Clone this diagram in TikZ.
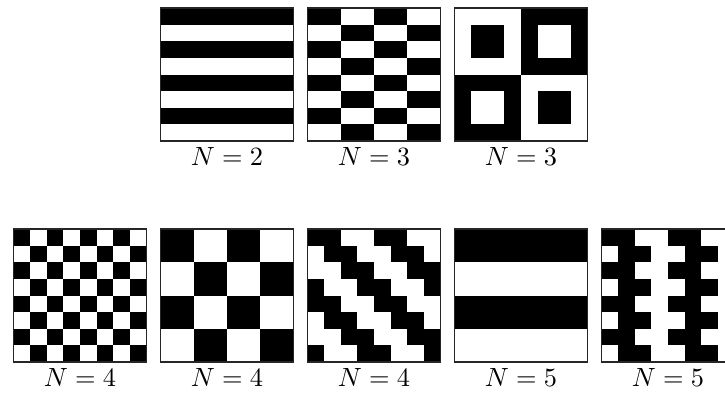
\documentclass[tikz,border=0pt]{standalone}
\tikzset{
  frame/.style={draw=black!85, line width=0.4pt},
  lab/.style={anchor=base, inner sep=0pt, font=\fontsize{10.2}{12}\selectfont},
  cellscope/.style={scale=16.625},
}
\newcommand\lablevel{9.474}
\begin{document}
\begin{tikzpicture}[x=0.3793pt,y=-0.3793pt]
\useasboundingbox (0,0) rectangle (725,394);
\clip (0,0) rectangle (725,394);
% ---------- top row ----------
% N=2 stripes
\begin{scope}[shift={(160.5,8)},cellscope]
  \foreach \r in {0,2,4,6} \fill (0,\r) rectangle (8,\r+1);
  \draw[frame] (0,0) rectangle (8,8);
  \node[lab] (t1) at (4,\lablevel) {$N=2$};
\end{scope}
% N=3 brick
\begin{scope}[shift={(307.5,8)},cellscope]
  \foreach \i in {0,...,3} \foreach \j in {0,...,7} {
    \pgfmathtruncatemacro\k{mod(\i+\j,2)}
    \ifnum\k=0 \fill (2*\i,\j) rectangle (2*\i+2,\j+1); \fi
  }
  \draw[frame] (0,0) rectangle (8,8);
  \node[lab] (t2) at (4,\lablevel) {$N=3$};
\end{scope}
% N=3 squares
\begin{scope}[shift={(454.5,8)},cellscope]
  \fill (4,0) rectangle (8,4);
  \fill (0,4) rectangle (4,8);
  \fill (1,1) rectangle (3,3);
  \fill (5,5) rectangle (7,7);
  \fill[white] (5,1) rectangle (7,3);
  \fill[white] (1,5) rectangle (3,7);
  \draw[frame] (0,0) rectangle (8,8);
  \node[lab] (t3) at (4,\lablevel) {$N=3$};
\end{scope}
% ---------- bottom row ----------
% N=4 fine checkerboard
\begin{scope}[shift={(13.5,229)},cellscope]
  \foreach \i in {0,...,7} \foreach \j in {0,...,7} {
    \pgfmathtruncatemacro\k{mod(\i+\j,2)}
    \ifnum\k=0 \fill (\i,\j) rectangle (\i+1,\j+1); \fi
  }
  \draw[frame] (0,0) rectangle (8,8);
  \node[lab] (b1) at (4,\lablevel) {$N=4$};
\end{scope}
% N=4 coarse checkerboard
\begin{scope}[shift={(160.5,229)},cellscope]
  \foreach \i in {0,...,3} \foreach \j in {0,...,3} {
    \pgfmathtruncatemacro\k{mod(\i+\j,2)}
    \ifnum\k=0 \fill (2*\i,2*\j) rectangle (2*\i+2,2*\j+2); \fi
  }
  \draw[frame] (0,0) rectangle (8,8);
  \node[lab] (b2) at (4,\lablevel) {$N=4$};
\end{scope}
% N=4 diagonal
\begin{scope}[shift={(307.5,229)},cellscope]
  \foreach \i in {0,...,7} \foreach \j in {0,...,7} {
    \pgfmathtruncatemacro\k{mod(\i-\j+8,4)}
    \ifnum\k<2 \fill (\i,\j) rectangle (\i+1,\j+1); \fi
  }
  \draw[frame] (0,0) rectangle (8,8);
  \node[lab] (b3) at (4,\lablevel) {$N=4$};
\end{scope}
% N=5 wide stripes
\begin{scope}[shift={(454.5,229)},cellscope]
  \fill (0,0) rectangle (8,2);
  \fill (0,4) rectangle (8,6);
  \draw[frame] (0,0) rectangle (8,8);
  \node[lab] (b4) at (4,\lablevel) {$N=5$};
\end{scope}
% N=5 zigzag
\begin{scope}[shift={(601.5,229)},cellscope]
  \foreach \i in {0,...,7} \foreach \j in {0,...,7} {
    \pgfmathtruncatemacro\k{mod(\i-mod(\j,2)+4,4)}
    \ifnum\k<2 \fill (\i,\j) rectangle (\i+1,\j+1); \fi
  }
  \draw[frame] (0,0) rectangle (8,8);
  \node[lab] (b5) at (4,\lablevel) {$N=5$};
\end{scope}
\end{tikzpicture}
\end{document}
